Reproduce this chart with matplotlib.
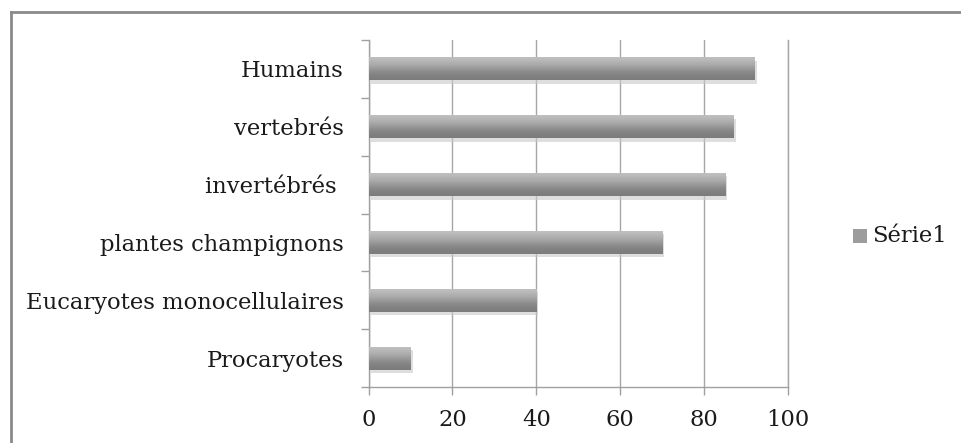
import numpy as np
import matplotlib.pyplot as plt
import matplotlib.patheffects as pe
from matplotlib.lines import Line2D

categories = ['Procaryotes', 'Eucaryotes monocellulaires', 'plantes champignons',
              'invertébrés ', 'vertebrés', 'Humains']
values = [10, 40, 70, 85, 87, 92]
xticks = [0, 20, 40, 60, 80, 100]
series_name = 'Série1'

plt.rcParams['font.family'] = ['DejaVu Serif']
FS = 16.3

fig = plt.figure(figsize=(9.61, 4.43), dpi=100)
ax = fig.add_axes([0.3835, 0.1264, 0.4365, 0.7833])

# vertical shading: light on top, dark towards the bottom
shade = np.array([0.75, 0.73, 0.70, 0.67, 0.63, 0.59, 0.55, 0.52, 0.50, 0.49])
grad = np.dstack([shade, shade, shade]).reshape(-1, 1, 3)

y = np.arange(len(categories))
bars = ax.barh(y, values, height=0.4, color='#9a9a9a', zorder=3,
               path_effects=[pe.SimplePatchShadow(offset=(1.5, -2.5), shadow_rgbFace='#c8c8c8', alpha=0.6),
                             pe.Normal()])
for b in bars:
    x0, y0 = b.get_x(), b.get_y()
    im = ax.imshow(grad, extent=[x0, x0 + b.get_width(), y0, y0 + b.get_height()],
                   aspect='auto', origin='upper', zorder=4, interpolation='bilinear')
    im.set_clip_path(b)

ax.set_xlim(0, 100)
ax.set_ylim(-0.5, len(categories) - 0.5)
ax.set_xticks(xticks)
ax.set_xticklabels([str(v) for v in xticks])
ax.set_yticks(y)
ax.set_yticklabels(categories)
ax.set_yticks(np.arange(-0.5, len(categories)), minor=True)

ax.grid(axis='x', color='#a6a6a6', linewidth=1.0, zorder=0)
ax.axvline(100, color='#a6a6a6', linewidth=1.0, zorder=0, clip_on=False)
for s in ['top', 'right']:
    ax.spines[s].set_visible(False)
for s in ['left', 'bottom']:
    ax.spines[s].set_color('#a0a0a0')
    ax.spines[s].set_linewidth(1.0)

ax.tick_params(axis='y', which='major', length=0, pad=18, labelsize=FS, labelcolor='#1a1a1a')
ax.tick_params(axis='y', which='minor', length=6, color='#a0a0a0', width=1)
ax.tick_params(axis='x', length=6, color='#a0a0a0', width=1, pad=10, labelsize=FS,
               labelcolor='#1a1a1a')

# legend entry to the right of the plot
fig.patches.append(plt.Rectangle((853 / 961, 1 - 243 / 443), 14 / 961, 14 / 443,
                                 transform=fig.transFigure, facecolor='#9c9c9c',
                                 edgecolor='none'))
fig.text(872 / 961, 1 - 236 / 443, series_name, fontsize=FS, color='#1a1a1a', va='center')

# chart frame
fig.add_artist(Line2D([11 / 961, 11 / 961], [0, 1 - 12 / 443], transform=fig.transFigure,
                      color='#8a8a8a', linewidth=2))
fig.add_artist(Line2D([11 / 961, 1], [1 - 12 / 443, 1 - 12 / 443], transform=fig.transFigure,
                      color='#8a8a8a', linewidth=2))

fig.savefig('out.png', dpi=100, facecolor='white')
